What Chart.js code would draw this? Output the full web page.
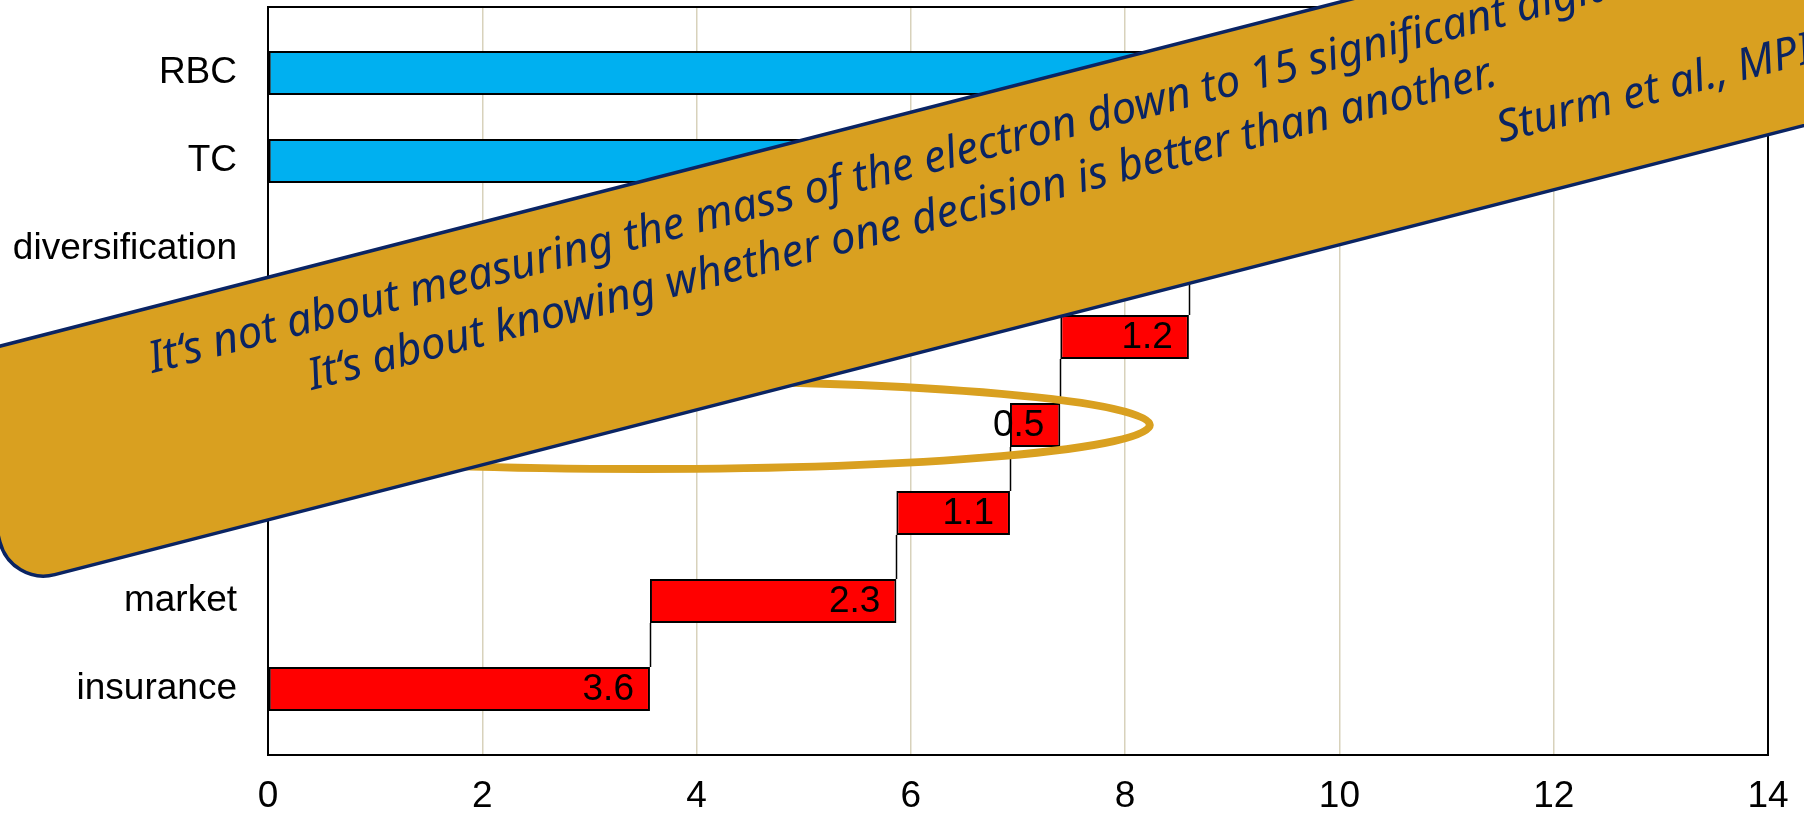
<!DOCTYPE html>
<html>
<head>
<meta charset="utf-8">
<title>Capital waterfall</title>
<script src="https://cdn.jsdelivr.net/npm/chart.js@4.4.0/dist/chart.umd.min.js"></script>
<style>
  html, body { margin: 0; padding: 0; background: #fff; }
  #chart { display: block; }
</style>
</head>
<body>
<canvas id="chart" width="1804" height="815"></canvas>
<script>
// Rows, top to bottom
const rows = ['RBC', 'TC', 'diversification', 'scenarios', 'operational', 'credit', 'market', 'insurance'];

// Risk contributions, stacked bottom-up
const riskRows = ['insurance', 'market', 'credit', 'operational', 'scenarios'];
const riskValues = [3.565, 2.3, 1.06, 0.47, 1.2];
const diversification = -2.3;
const rbcValue = 10.2;

const xTicks = [0, 2, 4, 6, 8, 10, 12, 14];

const BLUE = '#00b0f0';
const RED = '#ff0000';
const GOLD = '#d9a020';
const NAVY = '#0a2463';
const LABEL_FONT = '"Liberation Sans", Arial, sans-serif';

// build the waterfall steps from the risks, then diversification, then the totals
const bars = [];
let running = 0;
riskRows.forEach((name, i) => {
  const from = running;
  running += riskValues[i];
  bars.push({ row: rows.indexOf(name), from: from, to: running, value: riskValues[i] });
});
const divFrom = running;
running += diversification;
bars.push({ row: rows.indexOf('diversification'), from: divFrom, to: running, value: diversification });
const tcValue = running;
bars.push({ row: rows.indexOf('TC'), from: 0, to: tcValue, value: tcValue, total: true });
bars.push({ row: rows.indexOf('RBC'), from: 0, to: rbcValue, value: rbcValue, total: true });

// highlighted bar (ring around the operational step)
const ring = { x: 3.5, y: rows.indexOf('operational'), rx: 4.73, ry: 0.5 };

// quote banner laid across the plot, in its own rotated frame
const banner = { ox: 900, oy: 115, angle: 14.4, left: -978, right: 1700, thick: 235, radius: 45 };
const quoteLines = [
  { text: 'It‘s not about measuring the mass of the electron down to 15 significant digits.', u: -788, v: 64 },
  { text: 'It‘s about knowing whether one decision is better than another.', u: -638, v: 120 },
  { text: 'Sturm et al., MPIK', u: 575, v: 176 }
];

const waterfallExtras = {
  id: 'waterfallExtras',
  afterDatasetsDraw(chart) {
    const ctx = chart.ctx;
    const area = chart.chartArea;
    const xs = chart.scales.x;
    const ys = chart.scales.y;
    const els = chart.getDatasetMeta(0).data;

    ctx.save();
    // step connectors between consecutive bars
    ctx.strokeStyle = '#000';
    ctx.lineWidth = 1.5;
    for (let k = 0; k < bars.length - 2; k++) {
      const lower = els[k], upper = els[k + 1];
      const px = Math.round(xs.getPixelForValue(bars[k].to)) + 0.5;
      ctx.beginPath();
      ctx.moveTo(px, upper.y + upper.height / 2);
      ctx.lineTo(px, lower.y - lower.height / 2);
      ctx.stroke();
    }

    // plot frame
    ctx.lineWidth = 2;
    ctx.strokeRect(area.left, area.top, area.right - area.left, area.bottom - area.top);

    // ring
    const cx = xs.getPixelForValue(ring.x);
    const cy = ys.getPixelForValue(ring.y);
    const rx = xs.getPixelForValue(ring.x + ring.rx) - cx;
    const ry = Math.abs(ys.getPixelForValue(ring.y + ring.ry) - cy);
    ctx.strokeStyle = GOLD;
    ctx.lineWidth = 8;
    ctx.beginPath();
    ctx.ellipse(cx, cy, rx, ry, 0, 0, Math.PI * 2);
    ctx.stroke();

    // value labels at the right end of each step
    ctx.fillStyle = '#000';
    ctx.font = '37px ' + LABEL_FONT;
    ctx.textAlign = 'right';
    ctx.textBaseline = 'middle';
    bars.forEach((b, k) => {
      if (b.total) return;
      const el = els[k];
      const end = Math.max(el.x, el.base);
      ctx.fillText(b.value.toFixed(1), end - 16, el.y + 1);
    });
    ctx.restore();
  },
  afterDraw(chart) {
    const ctx = chart.ctx;
    ctx.save();
    ctx.translate(banner.ox, banner.oy);
    ctx.rotate(-banner.angle * Math.PI / 180);
    ctx.beginPath();
    ctx.roundRect(banner.left, 0, banner.right - banner.left, banner.thick, banner.radius);
    ctx.fillStyle = GOLD;
    ctx.fill();
    ctx.lineWidth = 3.5;
    ctx.strokeStyle = NAVY;
    ctx.stroke();

    ctx.fillStyle = NAVY;
    ctx.font = 'italic 44px "Noto Sans"';
    ctx.textAlign = 'left';
    ctx.textBaseline = 'alphabetic';
    quoteLines.forEach(l => ctx.fillText(l.text, l.u, l.v));
    ctx.restore();
  }
};

const ctx = document.getElementById('chart').getContext('2d');

new Chart(ctx, {
  type: 'bar',
  data: {
    datasets: [{
      data: bars.map(b => ({ y: b.row, x: [b.from, b.to] })),
      backgroundColor: bars.map(b => b.total ? BLUE : RED),
      borderColor: '#000',
      borderWidth: 2,
      borderSkipped: false,
      barPercentage: 0.5,
      categoryPercentage: 1
    }]
  },
  options: {
    indexAxis: 'y',
    responsive: false,
    animation: false,
    devicePixelRatio: 1,
    layout: { padding: { top: 7, right: 36, left: 0, bottom: 0 } },
    plugins: {
      legend: { display: false },
      tooltip: { enabled: false }
    },
    scales: {
      x: {
        type: 'linear',
        min: 0,
        max: 14,
        afterBuildTicks: scale => { scale.ticks = xTicks.map(v => ({ value: v })); },
        afterFit: scale => {
          scale.height = 60;
          scale.paddingLeft = 0;
          scale.paddingRight = 0;
        },
        grid: { color: '#d8d2bb', lineWidth: 1.5, drawTicks: false },
        border: { display: false },
        ticks: {
          padding: 20,
          color: '#000',
          font: { family: LABEL_FONT, size: 37 }
        }
      },
      y: {
        type: 'linear',
        reverse: true,
        offset: false,
        min: -0.75,
        max: 7.75,
        afterBuildTicks: scale => { scale.ticks = rows.map((_, i) => ({ value: i })); },
        afterFit: scale => {
          scale.width = 268;
          scale.paddingTop = 0;
          scale.paddingBottom = 0;
        },
        grid: { display: false, drawTicks: false },
        border: { display: false },
        ticks: {
          padding: 31,
          color: '#000',
          font: { family: LABEL_FONT, size: 37 },
          callback: v => rows[v]
        }
      }
    }
  },
  plugins: [waterfallExtras]
});
</script>
</body>
</html>
